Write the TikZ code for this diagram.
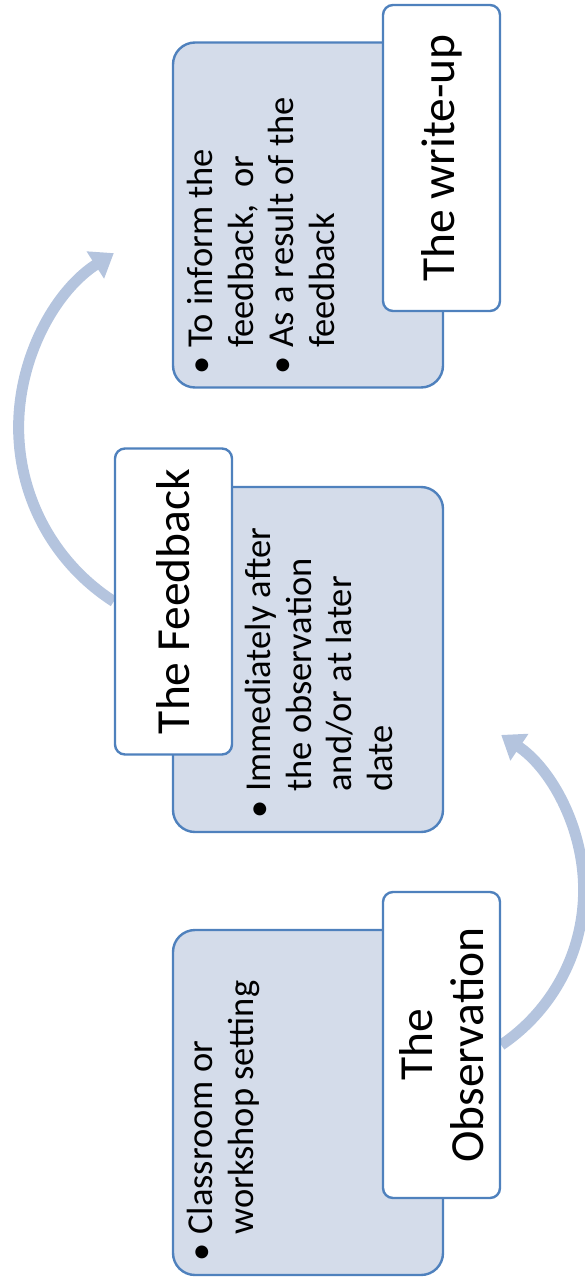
\documentclass[tikz,border=0pt]{standalone}
\usepackage{fontspec}
\setmainfont{Carlito}
\usetikzlibrary{arrows.meta,backgrounds}
\definecolor{boxfill}{RGB}{212,220,234}
\definecolor{boxline}{RGB}{79,129,189}
\definecolor{arcblue}{RGB}{180,196,222}

\begin{document}
\begin{tikzpicture}[x=1pt, y=1pt,
detail/.style={rotate=90, draw=boxline, line width=2.4pt, fill=boxfill, rounded corners=22pt, minimum width=345pt, minimum height=270pt},
title/.style={rotate=90, draw=boxline, line width=2.4pt, fill=white, rounded corners=10pt, minimum width=306pt, minimum height=117pt, align=center, font=\fontsize{47.5}{51}\selectfont},
bullets/.style={rotate=90, anchor=north west, inner sep=0pt, font=\fontsize{36.5}{40.5}\selectfont},
looparrow/.style={draw=arcblue, line width=11pt, -{Triangle[width=31pt,length=22pt]}}
]
\useasboundingbox (0,0) rectangle (584,-1281);
%Nodes
\node[detail]    (wBox)    at (308,-215)       {};
\node[title]     (wTitle)  at (441.5,-158)     {The write-up};
\node[detail]    (fBox)    at (308,-659.5)     {};
\node[title]     (fTitle)  at (173.5,-601.5)   {The Feedback};
\node[detail]    (oBox)    at (308,-1102.5)    {};
\node[title]     (oTitle)  at (441.5,-1045)    {The\\Observation};
%Texts
\node[bullets]   (wText)   at (184,-375)  {\begin{tabular}{@{}l@{\hspace{9pt}}l@{}}
  \textbullet & To inform the\\
              & feedback,\ \ or\\
  \textbullet & As a result of the\\
              & feedback
  \end{tabular}};
\node[bullets]   (fText)   at (242,-819)  {\begin{tabular}{@{}l@{\hspace{9pt}}l@{}}
  \textbullet & Immediately after\\
              & the observation\\
              & and/or at later\\
              & date
  \end{tabular}};
\node[bullets]   (oText)   at (184,-1262) {\begin{tabular}{@{}l@{\hspace{9pt}}l@{}}
  \textbullet & Classroom or\\
              & workshop setting
  \end{tabular}};
%Arcs
\begin{pgfonlayer}{background}
\draw[looparrow] (oTitle.south) arc[start angle=-56, end angle=56, radius=187pt];
\draw[looparrow] (fTitle.north) arc[start angle=237.3, end angle=122.7, radius=207pt];
\end{pgfonlayer}
\end{tikzpicture}
\end{document}
